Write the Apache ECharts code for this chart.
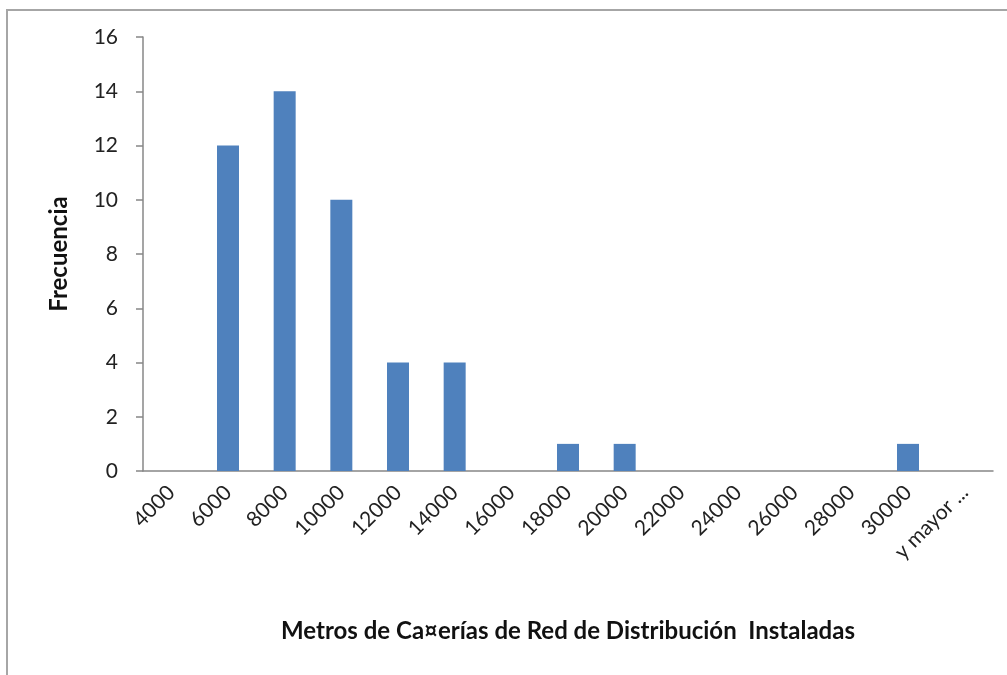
<!DOCTYPE html>
<html>
<head>
    <meta charset="utf-8">
    <title>Histograma</title>
    <script src="https://cdn.jsdelivr.net/npm/echarts@6/dist/echarts.min.js"></script>
    <style>
        html, body { margin: 0; padding: 0; background: #fff; }
        #chart1 { width: 1007px; height: 675px; }
    </style>
</head>
<body>
<div id="chart1"></div>
<script>
    // clases del histograma
    var categorias = ['4000', '6000', '8000', '10000', '12000', '14000', '16000', '18000',
        '20000', '22000', '24000', '26000', '28000', '30000', 'y mayor ...'];
    // frecuencia por clase
    var frecuencia = [0, 12, 14, 10, 4, 4, 0, 1, 1, 0, 0, 0, 0, 1, 0];
    var yTicks = [0, 2, 4, 6, 8, 10, 12, 14, 16];

    var fuente = 'Lato, "Open Sans", sans-serif';
    var myChart1 = echarts.init(document.getElementById('chart1'));
    myChart1.setOption({
        animation: false,
        graphic: [{
            type: 'rect',
            shape: {x: 7, y: 10, width: 1100, height: 800},
            style: {fill: 'none', stroke: '#a6a6a6', lineWidth: 2},
            silent: true
        }],
        grid: {left: 143, right: 14, top: 37, bottom: 204},
        xAxis: {
            type: 'category',
            data: categorias,
            name: 'Metros de Ca¤erías de Red de Distribución  Instaladas',
            nameLocation: 'middle',
            nameGap: 148,
            nameTextStyle: {fontFamily: fuente, fontWeight: 'bold', fontSize: 24, color: '#111'},
            axisLine: {lineStyle: {color: '#878787', width: 1.5}},
            axisTick: {length: 8, lineStyle: {color: '#878787', width: 1.5}},
            axisLabel: {rotate: 45, margin: 18, fontFamily: fuente, fontSize: 21, color: '#222'}
        },
        yAxis: {
            type: 'value',
            min: yTicks[0],
            max: yTicks[yTicks.length - 1],
            interval: 2,
            name: 'Frecuencia',
            nameLocation: 'middle',
            nameGap: 72,
            nameRotate: 90,
            nameTextStyle: {fontFamily: fuente, fontWeight: 'bold', fontSize: 24, color: '#111'},
            axisLine: {show: true, lineStyle: {color: '#878787', width: 1.5}},
            axisTick: {show: true, length: 7, lineStyle: {color: '#878787', width: 1.5}},
            axisLabel: {margin: 25, fontFamily: fuente, fontSize: 21, color: '#222'},
            splitLine: {show: false}
        },
        series: [{
            name: 'Frecuencia',
            type: 'bar',
            data: frecuencia,
            barWidth: 22,
            itemStyle: {color: '#4f81bd'}
        }]
    });
</script>
</body>
</html>
